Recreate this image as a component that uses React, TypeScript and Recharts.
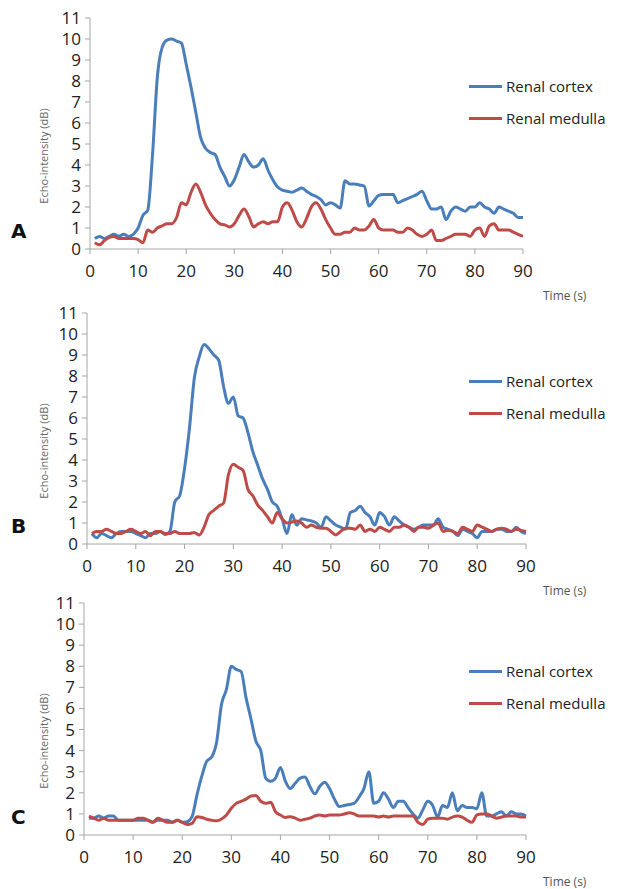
import { Line, LineChart, XAxis, YAxis } from "recharts";

// time in seconds
const TIME = [
  1, 2, 3, 4, 5, 6, 7, 8, 9, 10, 11, 12, 13, 14, 15, 16, 17, 18, 19, 20,
  21, 22, 23, 24, 25, 26, 27, 28, 29, 30, 31, 32, 33, 34, 35, 36, 37, 38, 39, 40,
  41, 42, 43, 44, 45, 46, 47, 48, 49, 50, 51, 52, 53, 54, 55, 56, 57, 58, 59, 60,
  61, 62, 63, 64, 65, 66, 67, 68, 69, 70, 71, 72, 73, 74, 75, 76, 77, 78, 79, 80,
  81, 82, 83, 84, 85, 86, 87, 88, 89, 90,
];

const X_TICKS = [0, 10, 20, 30, 40, 50, 60, 70, 80, 90];
const Y_TICKS = [0, 1, 2, 3, 4, 5, 6, 7, 8, 9, 10, 11];

const CORTEX_A = [
  0.5, 0.6, 0.5, 0.6, 0.7, 0.6, 0.7, 0.6, 0.7, 1.0,
  1.6, 1.85, 4.5, 8.2, 9.6, 9.95, 10.0, 9.9, 9.8, 8.8,
  7.7, 6.5, 5.3, 4.8, 4.6, 4.5, 3.9, 3.45, 3.0, 3.3,
  3.9, 4.5, 4.15, 3.9, 4.0, 4.3, 3.75, 3.3, 2.95, 2.8,
  2.75, 2.7, 2.8, 2.9, 2.75, 2.6, 2.5, 2.35, 2.1, 2.2,
  2.1, 1.95, 3.25, 3.1, 3.1, 3.05, 3.0, 2.05, 2.3, 2.55,
  2.6, 2.6, 2.6, 2.2, 2.3, 2.4, 2.5, 2.6, 2.75, 2.3,
  1.9, 1.9, 2.0, 1.4, 1.8, 2.0, 1.9, 1.8, 2.0, 2.0,
  2.2, 2.0, 1.9, 1.7, 2.0, 1.9, 1.8, 1.7, 1.5, 1.5,
];
const MEDULLA_A = [
  0.3, 0.2, 0.4, 0.55, 0.6, 0.5, 0.5, 0.5, 0.5, 0.45,
  0.3, 0.9, 0.8, 1.0, 1.1, 1.2, 1.2, 1.5, 2.2, 2.1,
  2.7, 3.1, 2.7, 2.1, 1.7, 1.4, 1.2, 1.15, 1.05, 1.2,
  1.6, 1.9, 1.55, 1.05, 1.2, 1.3, 1.2, 1.3, 1.3, 2.0,
  2.2, 1.85, 1.3, 1.05, 1.45, 2.0, 2.2, 1.9, 1.4, 1.0,
  0.7, 0.7, 0.8, 0.8, 1.0, 0.9, 0.9, 1.1, 1.4, 1.0,
  0.9, 0.9, 0.9, 0.8, 0.8, 1.0, 0.9, 0.7, 0.6, 0.7,
  0.9, 0.4, 0.4, 0.5, 0.6, 0.7, 0.7, 0.7, 0.6, 0.9,
  1.0, 0.6, 1.1, 1.2, 0.9, 0.9, 0.9, 0.8, 0.7, 0.6,
];

const CORTEX_B = [
  0.5, 0.3, 0.5, 0.4, 0.3, 0.5, 0.6, 0.6, 0.6, 0.5,
  0.4, 0.3, 0.5, 0.5, 0.6, 0.45, 0.6, 2.0, 2.3, 3.6,
  5.5, 7.9, 8.9, 9.5, 9.3, 9.0, 8.75, 7.5, 6.7, 7.0,
  6.1, 6.0, 5.3, 4.4, 3.75, 3.1, 2.6, 2.0, 1.8, 1.2,
  0.5, 1.4, 0.9, 1.2, 1.15, 1.1, 1.0, 0.8, 1.3, 1.1,
  0.9, 0.8, 0.7, 1.5, 1.6, 1.8, 1.5, 1.3, 0.9, 1.5,
  1.3, 0.9, 1.3, 1.1, 0.9, 0.8, 0.7, 0.8, 0.9, 0.9,
  0.9, 1.2, 0.8, 0.7, 0.6, 0.4, 0.7, 0.6, 0.5, 0.3,
  0.6, 0.6, 0.6, 0.7, 0.7, 0.6, 0.6, 0.8, 0.6, 0.5,
];
const MEDULLA_B = [
  0.5, 0.6, 0.6, 0.7, 0.6, 0.5, 0.5, 0.6, 0.7, 0.6,
  0.5, 0.6, 0.4, 0.6, 0.6, 0.5, 0.5, 0.6, 0.5, 0.5,
  0.5, 0.55, 0.43, 0.8, 1.4, 1.6, 1.8, 1.95, 3.3, 3.8,
  3.65, 3.5, 2.6, 2.3, 1.85, 1.6, 1.3, 1.0, 1.5, 1.2,
  1.0, 1.05, 1.1, 1.0, 0.8, 0.9, 0.8, 0.75, 0.75, 0.6,
  0.43, 0.6, 0.75, 0.75, 0.7, 0.9, 0.6, 0.7, 0.6, 0.8,
  0.7, 0.6, 0.8, 0.8, 0.9, 0.8, 0.6, 0.8, 0.8, 0.75,
  0.9, 1.0, 0.6, 0.65, 0.6, 0.5, 0.8, 0.7, 0.6, 0.9,
  0.8, 0.7, 0.6, 0.7, 0.75, 0.7, 0.6, 0.7, 0.65, 0.6,
];

const CORTEX_C = [
  0.8, 0.8, 0.9, 0.8, 0.9, 0.9, 0.7, 0.7, 0.7, 0.7,
  0.7, 0.7, 0.7, 0.6, 0.7, 0.7, 0.7, 0.6, 0.7, 0.6,
  0.63, 0.87, 1.9, 2.8, 3.5, 3.7, 4.4, 6.2, 6.9, 8.0,
  7.85, 7.75, 6.5, 5.5, 4.45, 4.0, 2.7, 2.55, 2.7, 3.2,
  2.55, 2.2, 2.45, 2.7, 2.75, 2.3, 1.95, 2.3, 2.5, 2.2,
  1.7, 1.35, 1.4, 1.45, 1.5, 1.8, 2.2, 3.0, 1.5, 1.6,
  2.0, 1.7, 1.3, 1.6, 1.6, 1.3, 1.0, 0.8, 1.2, 1.6,
  1.4, 0.85, 1.4, 1.3, 2.0, 1.15, 1.4, 1.3, 1.3, 1.25,
  2.0, 0.9, 0.9, 1.0, 1.1, 0.9, 1.1, 1.0, 1.0, 0.9,
];
const MEDULLA_C = [
  0.9, 0.8, 0.7, 0.8, 0.7, 0.7, 0.7, 0.7, 0.7, 0.7,
  0.8, 0.8, 0.7, 0.6, 0.8, 0.7, 0.6, 0.6, 0.7, 0.6,
  0.5, 0.55, 0.87, 0.83, 0.75, 0.7, 0.67, 0.76, 0.95, 1.27,
  1.5, 1.6, 1.7, 1.85, 1.87, 1.6, 1.5, 1.55, 1.1, 0.95,
  0.83, 0.87, 0.8, 0.7, 0.75, 0.8, 0.9, 0.95, 0.9, 0.95,
  0.95, 0.95, 1.0, 1.05, 1.0, 0.9, 0.9, 0.9, 0.9, 0.85,
  0.9, 0.85, 0.9, 0.9, 0.9, 0.9, 0.9, 0.6, 0.5, 0.75,
  0.8, 0.8, 0.8, 0.75, 0.85, 0.9, 0.85, 0.7, 0.6, 0.95,
  1.0, 1.0, 0.9, 0.8, 0.85, 0.9, 0.9, 0.9, 0.85, 0.85,
];

const BLUE = "#4a7ebb";
const RED = "#be4b48";
const AXIS = "#a6a6a6";
const FONT = "'Open Sans', 'Noto Sans', sans-serif";

const SERIES = [
  { name: "Renal cortex", color: BLUE },
  { name: "Renal medulla", color: RED },
];

// legend drawn beside the chart so it does not shrink the plot area
const LegendBox = () => (
  <div
    style={{
      position: "absolute",
      left: 469,
      top: 70,
      fontFamily: FONT,
      fontSize: 15,
      color: "#222",
    }}
  >
    {SERIES.map((item) => (
      <div
        key={item.name}
        style={{ display: "flex", alignItems: "center", height: 32, whiteSpace: "nowrap" }}
      >
        <span
          style={{
            display: "inline-block",
            width: 33,
            height: 3,
            background: item.color,
            marginRight: 4,
          }}
        />
        {item.name}
      </div>
    ))}
  </div>
);

function Panel({
  letter,
  top,
  plotLeft,
  plotRight,
  plotHeight,
  cortex,
  medulla,
}: {
  letter: string;
  top: number;
  plotLeft: number;
  plotRight: number;
  plotHeight: number;
  cortex: number[];
  medulla: number[];
}) {
  const data = TIME.map((t, i) => ({ t, cortex: cortex[i], medulla: medulla[i] }));
  const marginTop = 18;
  const xAxisHeight = 30;
  const height = 300;
  const plotBottom = marginTop + plotHeight;

  return (
    <div style={{ position: "absolute", left: 0, top, width: 623, height }}>
      <LineChart
        width={623}
        height={height}
        data={data}
        margin={{
          top: marginTop,
          right: 623 - plotRight,
          left: 0,
          bottom: height - plotBottom - xAxisHeight,
        }}
      >
        <XAxis
          dataKey="t"
          type="number"
          domain={[0, 90]}
          ticks={X_TICKS}
          interval={0}
          height={xAxisHeight}
          stroke={AXIS}
          tickSize={5}
          tickMargin={11}
          tick={{ fill: "#222", fontSize: 17, fontFamily: FONT }}
        />
        <YAxis
          type="number"
          domain={[0, 11]}
          ticks={Y_TICKS}
          interval={0}
          width={plotLeft}
          stroke={AXIS}
          tickSize={5}
          tickMargin={4}
          tick={{ fill: "#222", fontSize: 17, fontFamily: FONT }}
        />
        <Line
          type="monotone"
          dataKey="cortex"
          stroke={BLUE}
          strokeWidth={3}
          dot={false}
          isAnimationActive={false}
        />
        <Line
          type="monotone"
          dataKey="medulla"
          stroke={RED}
          strokeWidth={3}
          dot={false}
          isAnimationActive={false}
        />
      </LineChart>
      <LegendBox />
      {/* y-axis title */}
      <div
        style={{
          position: "absolute",
          left: 43,
          top: marginTop + plotHeight / 2 + 22,
          transform: "translate(-50%, -50%) rotate(-90deg)",
          whiteSpace: "nowrap",
          fontFamily: FONT,
          fontSize: 11,
          color: "#666",
        }}
      >
        Echo-intensity (dB)
      </div>
      {/* panel letter */}
      <div
        style={{
          position: "absolute",
          left: 11,
          top: plotBottom - 30,
          fontFamily: "'DejaVu Sans', sans-serif",
          fontWeight: "bold",
          fontSize: 20,
          color: "#111",
        }}
      >
        {letter}
      </div>
      {/* x-axis title */}
      <div
        style={{
          position: "absolute",
          left: 543,
          top: plotBottom + 38,
          fontFamily: FONT,
          fontSize: 12,
          color: "#555",
          whiteSpace: "nowrap",
        }}
      >
        Time (s)
      </div>
    </div>
  );
}

export default function App() {
  return (
    <div
      style={{
        position: "absolute",
        left: 0,
        top: 0,
        width: 623,
        height: 889,
        background: "#fff",
        overflow: "hidden",
      }}
    >
      <Panel letter="A" top={0} plotLeft={90} plotRight={523} plotHeight={231} cortex={CORTEX_A} medulla={MEDULLA_A} />
      <Panel letter="B" top={295} plotLeft={87} plotRight={526} plotHeight={231} cortex={CORTEX_B} medulla={MEDULLA_B} />
      <Panel letter="C" top={585} plotLeft={84} plotRight={526} plotHeight={232} cortex={CORTEX_C} medulla={MEDULLA_C} />
    </div>
  );
}
